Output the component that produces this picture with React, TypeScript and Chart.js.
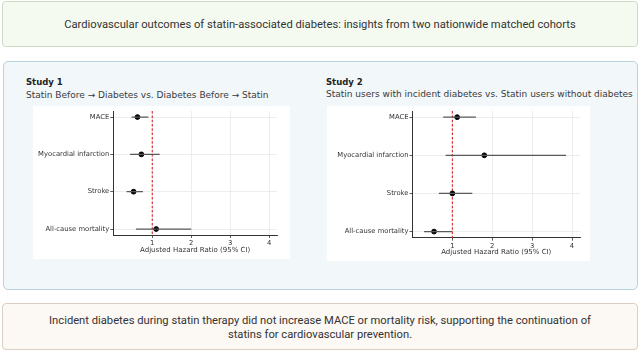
import React, { useEffect, useRef } from "react";
import { Chart, registerables } from "chart.js";
Chart.register(...registerables);

const OUTCOMES = ["MACE", "Myocardial infarction", "Stroke", "All-cause mortality"];
const S1_HR = [0.62, 0.72, 0.52, 1.1];
const S1_LO = [0.47, 0.43, 0.34, 0.58];
const S1_HI = [0.9, 1.19, 0.76, 2.0];
const S2_HR = [1.12, 1.8, 1.0, 0.54];
const S2_LO = [0.77, 0.83, 0.66, 0.29];
const S2_HI = [1.59, 3.85, 1.5, 1.0];
const X_TICKS = [1, 2, 3, 4];
const REF_HR = 1;
const X_LABEL = "Adjusted Hazard Ratio (95% CI)";
const MAIN_TITLE =
  "Cardiovascular outcomes of statin-associated diabetes: insights from two nationwide matched cohorts";
const S1_TITLE = "Study 1";
const S1_SUB = "Statin Before \u2192 Diabetes vs. Diabetes Before \u2192 Statin";
const S2_TITLE = "Study 2";
const S2_SUB = "Statin users with incident diabetes vs. Statin users without diabetes";
const CONCLUSION_1 =
  "Incident diabetes during statin therapy did not increase MACE or mortality risk, supporting the continuation of";
const CONCLUSION_2 = "statins for cardiovascular prevention.";

const CHART_FONT = "'DejaVu Sans', sans-serif";

const refLinePlugin = {
  id: "refLine",
  beforeDatasetsDraw(chart: any) {
    const { ctx, chartArea, scales } = chart;
    const x = scales.x.getPixelForValue(REF_HR);
    ctx.save();
    ctx.strokeStyle = "#d9363a";
    ctx.lineWidth = 1.2;
    ctx.setLineDash([2.5, 1.8]);
    ctx.beginPath();
    ctx.moveTo(x, chartArea.top);
    ctx.lineTo(x, chartArea.bottom);
    ctx.stroke();
    ctx.restore();
  },
};

type ForestProps = {
  hr: number[];
  lo: number[];
  hi: number[];
  left: number;
  top: number;
  width: number;
  height: number;
  yWidth: number;
  xHeight: number;
  padTop: number;
  padRight: number;
};

function Forest(p: ForestProps) {
  const ref = useRef<HTMLCanvasElement | null>(null);
  useEffect(() => {
    if (!ref.current) return;
    const bars = OUTCOMES.map((_, i) => ({
      type: "line",
      data: [
        { x: p.lo[i], y: i },
        { x: p.hi[i], y: i },
      ],
      showLine: true,
      borderColor: "#595959",
      borderWidth: 1.2,
      pointRadius: 0,
      fill: false,
    }));
    const points = {
      type: "scatter",
      data: p.hr.map((v, i) => ({ x: v, y: i })),
      backgroundColor: "#000000",
      borderColor: "#000000",
      pointRadius: 2.4,
      pointHoverRadius: 2.4,
    };
    const tickFont = { family: CHART_FONT, size: 6.8 };
    const chart = new Chart(ref.current, {
      type: "scatter",
      data: { datasets: [...bars, points] as any },
      options: {
        animation: false,
        responsive: false,
        layout: { padding: { left: 0, right: p.padRight, top: p.padTop, bottom: 0 } },
        plugins: { legend: { display: false }, tooltip: { enabled: false } },
        scales: {
          x: {
            type: "linear",
            min: 0,
            max: 4.2,
            afterBuildTicks: (s: any) => {
              s.ticks = X_TICKS.map((v) => ({ value: v }));
            },
            afterFit: (s: any) => {
              s.height = p.xHeight;
            },
            grid: { color: "#e8e8e8", lineWidth: 0.8, tickColor: "#333333", tickLength: 3 },
            border: { display: true, color: "#333333", width: 1 },
            ticks: { font: tickFont, color: "#333333", padding: 1, maxRotation: 0, autoSkip: false },
            title: {
              display: true,
              text: X_LABEL,
              font: { family: CHART_FONT, size: 7 },
              color: "#333333",
              padding: { top: 0, bottom: 5 },
            },
          },
          y: {
            type: "linear",
            reverse: true,
            min: -0.16,
            max: 3.16,
            afterBuildTicks: (s: any) => {
              s.ticks = OUTCOMES.map((_, i) => ({ value: i }));
            },
            afterFit: (s: any) => {
              s.width = p.yWidth;
            },
            grid: { color: "#e8e8e8", lineWidth: 0.8, tickColor: "#333333", tickLength: 3 },
            border: { display: true, color: "#333333", width: 1 },
            ticks: {
              font: tickFont,
              color: "#333333",
              padding: 1,
              autoSkip: false,
              callback: (v: any) => OUTCOMES[Math.round(Number(v))] ?? "",
            },
          },
        },
      },
      plugins: [refLinePlugin],
    } as any);
    return () => chart.destroy();
  }, []);
  return (
    <canvas
      ref={ref}
      width={p.width}
      height={p.height}
      style={{
        position: "absolute",
        left: p.left,
        top: p.top,
        width: p.width,
        height: p.height,
        background: "#ffffff",
      }}
    />
  );
}

export default function App() {
  const boxText: React.CSSProperties = {
    fontFamily: "Roboto, sans-serif",
    fontSize: 11.2,
    color: "#333333",
  };
  const studyTitle: React.CSSProperties = {
    position: "absolute",
    fontFamily: CHART_FONT,
    fontWeight: "bold",
    fontSize: 8.5,
    lineHeight: "12px",
    color: "#222222",
    whiteSpace: "nowrap",
  };
  const studySub: React.CSSProperties = {
    position: "absolute",
    fontFamily: CHART_FONT,
    fontSize: 9,
    lineHeight: "12px",
    color: "#3a3a3a",
    whiteSpace: "nowrap",
  };
  return (
    <div
      style={{
        position: "fixed",
        left: 0,
        top: 0,
        width: 640,
        height: 352,
        background: "#ffffff",
        overflow: "hidden",
      }}
    >
      <div
        style={{
          ...boxText,
          position: "absolute",
          left: 2,
          top: 1,
          width: 636,
          height: 46,
          boxSizing: "border-box",
          border: "1px solid #cadcc3",
          borderRadius: 4,
          background: "#f4faf0",
          display: "flex",
          alignItems: "center",
          justifyContent: "center",
        }}
      >
        {MAIN_TITLE}
      </div>

      <div
        style={{
          position: "absolute",
          left: 3,
          top: 61,
          width: 635,
          height: 229,
          boxSizing: "border-box",
          border: "1px solid #b9d3df",
          borderRadius: 5,
          background: "#f2f7fa",
        }}
      />

      <div style={{ ...studyTitle, left: 26, top: 76 }}>{S1_TITLE}</div>
      <div style={{ ...studySub, left: 26, top: 89 }}>{S1_SUB}</div>
      <div style={{ ...studyTitle, left: 326, top: 76 }}>{S2_TITLE}</div>
      <div style={{ ...studySub, left: 326, top: 88 }}>{S2_SUB}</div>

      <Forest
        hr={S1_HR}
        lo={S1_LO}
        hi={S1_HI}
        left={33}
        top={106}
        width={257}
        height={153}
        yWidth={80.3}
        xHeight={24}
        padTop={2}
        padRight={13}
      />
      <Forest
        hr={S2_HR}
        lo={S2_LO}
        hi={S2_HI}
        left={327}
        top={106}
        width={263}
        height={155}
        yWidth={85.5}
        xHeight={23.3}
        padTop={2}
        padRight={10}
      />

      <div
        style={{
          ...boxText,
          position: "absolute",
          left: 2,
          top: 303,
          width: 636,
          height: 47,
          boxSizing: "border-box",
          border: "1px solid #dccfc2",
          borderRadius: 4,
          background: "#fcf8f3",
          display: "flex",
          flexDirection: "column",
          alignItems: "center",
          justifyContent: "center",
          lineHeight: "14px",
          paddingTop: 3,
          textAlign: "center",
        }}
      >
        <div>{CONCLUSION_1}</div>
        <div>{CONCLUSION_2}</div>
      </div>
    </div>
  );
}
